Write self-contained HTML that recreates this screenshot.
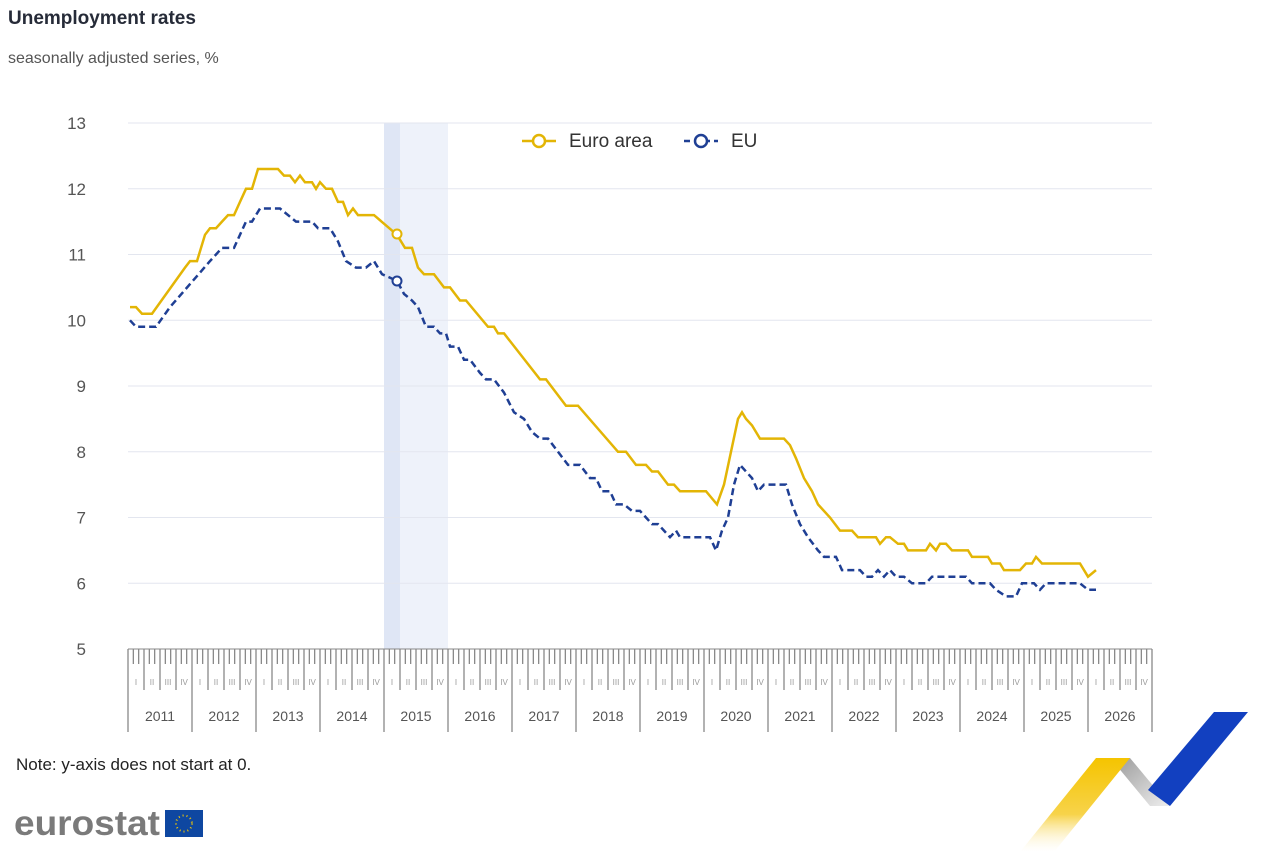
<!DOCTYPE html>
<html><head><meta charset="utf-8"><style>
body{margin:0;background:#fff;width:1280px;height:852px;overflow:hidden;font-family:"Liberation Sans",sans-serif}
</style></head><body>
<svg id="s" width="1280" height="852" xmlns="http://www.w3.org/2000/svg" font-family="Liberation Sans, sans-serif">
<text x="8" y="24" font-size="19" font-weight="bold" fill="#262b38">Unemployment rates</text>
<text x="8" y="63" font-size="16" fill="#555">seasonally adjusted series, %</text>
<rect x="384" y="123" width="64" height="526" fill="#eef2fa"/>
<rect x="384" y="123" width="16" height="526" fill="#dfe6f5"/>
<g id="grid"></g>
<g id="ax"></g>
<path id="eu" fill="none" stroke="#1f3f94" stroke-width="2.5" stroke-dasharray="7,4"/>
<path id="ea" fill="none" stroke="#e3b505" stroke-width="2.5"/>
<circle cx="397" cy="234" r="4.5" fill="#fff" stroke="#e3b505" stroke-width="2"/>
<circle cx="397" cy="281" r="4.5" fill="#fff" stroke="#1f3f94" stroke-width="2"/>
<line x1="522" y1="141" x2="556" y2="141" stroke="#e3b505" stroke-width="2.5"/>
<circle cx="539" cy="141" r="6" fill="#fff" stroke="#e3b505" stroke-width="2.5"/>
<text x="569" y="147" font-size="19" fill="#333">Euro area</text>
<line x1="684" y1="141" x2="718" y2="141" stroke="#1f3f94" stroke-width="2.5" stroke-dasharray="6,4"/>
<circle cx="701" cy="141" r="6" fill="#fff" stroke="#1f3f94" stroke-width="2.5"/>
<text x="731" y="147" font-size="19" fill="#333">EU</text>
<text x="16" y="770" font-size="17" fill="#222">Note: y-axis does not start at 0.</text>
<text x="14" y="835" font-size="35" font-weight="bold" fill="#7a7a7a" textLength="146" lengthAdjust="spacingAndGlyphs">eurostat</text>
<rect x="165" y="810" width="38" height="27" fill="#0e47a1"/>
<circle cx="184" cy="823.5" r="8" fill="none" stroke="#f5c800" stroke-width="2" stroke-dasharray="1,3"/>
<defs>
<linearGradient id="gy" x1="0" y1="0" x2="0" y2="1"><stop offset="0" stop-color="#f5c400"/><stop offset="0.6" stop-color="#f7d34a"/><stop offset="1" stop-color="#fff" stop-opacity="0.2"/></linearGradient>
<linearGradient id="gg" x1="0" y1="0" x2="1" y2="1"><stop offset="0" stop-color="#999"/><stop offset="1" stop-color="#eee"/></linearGradient>
</defs>
<polygon points="1130,758 1170,806 1150,806 1112,760" fill="url(#gg)"/>
<polygon points="1096,758 1130,758 1054,852 1020,852" fill="url(#gy)"/>
<polygon points="1214,712 1248,712 1170,806 1148,790" fill="#1240c0"/>
</svg>
<script>
const Y=v=>649-(v-5)*65.75;
const g=document.getElementById('grid'),ax=document.getElementById('ax');
let h='';
for(let v=5;v<=13;v++){h+=`<line x1="128" x2="1152" y1="${Y(v)}" y2="${Y(v)}" stroke="#e3e6ef"/><text x="86" y="${Y(v)+6}" font-size="17" fill="#555" text-anchor="end">${v}</text>`;}
g.innerHTML=h;h='';
h+=`<line x1="128" x2="1152" y1="649" y2="649" stroke="#888"/>`;
const q=['I','II','III','IV'];
for(let m=0;m<=192;m++){const x=128+m*1024/192;let y2=664;if(m%12==0)y2=732;else if(m%3==0)y2=690;
h+=`<line x1="${x}" x2="${x}" y1="649" y2="${y2}" stroke="#888" stroke-width="1.3"/>`;}
for(let k=0;k<64;k++){const x=128+k*16+8;h+=`<text x="${x}" y="685" font-size="8" fill="#999" text-anchor="middle">${q[k%4]}</text>`;}
for(let yr=0;yr<16;yr++)h+=`<text x="${160+yr*64}" y="721" font-size="14" fill="#555" text-anchor="middle">${2011+yr}</text>`;
ax.innerHTML=h;
const ea=[130,10.2,136,10.2,142,10.1,152,10.1,185,10.8,190,10.9,197,10.9,205,11.3,210,11.4,216,11.4,222,11.5,228,11.6,234,11.6,240,11.8,246,12.0,252,12.0,258,12.3,278,12.3,284,12.2,290,12.2,295,12.1,300,12.2,305,12.1,312,12.1,316,12.0,320,12.1,326,12.0,332,12.0,338,11.8,343,11.8,348,11.6,353,11.7,358,11.6,374,11.6,397,11.3,405,11.1,412,11.1,418,10.8,424,10.7,434,10.7,444,10.5,450,10.5,460,10.3,466,10.3,488,9.9,494,9.9,498,9.8,504,9.8,540,9.1,546,9.1,566,8.7,578,8.7,618,8.0,626,8.0,636,7.8,646,7.8,652,7.7,658,7.7,668,7.5,674,7.5,680,7.4,706,7.4,717,7.2,724,7.5,731,8.0,738,8.5,742,8.6,746,8.5,752,8.4,760,8.2,784,8.2,790,8.1,796,7.9,804,7.6,812,7.4,818,7.2,830,7.0,840,6.8,852,6.8,858,6.7,876,6.7,880,6.6,886,6.7,890,6.7,898,6.6,904,6.6,908,6.5,926,6.5,930,6.6,936,6.5,940,6.6,946,6.6,952,6.5,968,6.5,972,6.4,988,6.4,992,6.3,1000,6.3,1004,6.2,1020,6.2,1026,6.3,1032,6.3,1036,6.4,1042,6.3,1080,6.3,1088,6.1,1096,6.2];
const eu=[130,10.0,136,9.9,156,9.9,170,10.2,210,10.9,222,11.1,234,11.1,246,11.5,252,11.5,260,11.7,280,11.7,296,11.5,312,11.5,318,11.4,330,11.4,338,11.2,346,10.9,356,10.8,366,10.8,374,10.9,382,10.7,397,10.6,404,10.4,412,10.3,418,10.2,426,9.9,434,9.9,440,9.8,446,9.8,450,9.6,458,9.6,464,9.4,470,9.4,480,9.2,486,9.1,494,9.1,504,8.9,514,8.6,524,8.5,532,8.3,540,8.2,548,8.2,568,7.8,580,7.8,590,7.6,596,7.6,602,7.4,610,7.4,616,7.2,624,7.2,632,7.1,640,7.1,646,7.0,652,6.9,658,6.9,664,6.8,670,6.7,676,6.8,680,6.7,710,6.7,716,6.5,722,6.8,728,7.0,734,7.5,740,7.8,746,7.7,752,7.6,758,7.4,764,7.5,786,7.5,792,7.2,800,6.9,808,6.7,818,6.5,824,6.4,836,6.4,842,6.2,860,6.2,866,6.1,872,6.1,878,6.2,884,6.1,890,6.2,896,6.1,904,6.1,912,6.0,926,6.0,932,6.1,966,6.1,972,6.0,990,6.0,996,5.9,1006,5.8,1016,5.8,1022,6.0,1034,6.0,1040,5.9,1046,6.0,1080,6.0,1088,5.9,1096,5.9];
const P=a=>{let d='';for(let i=0;i<a.length;i+=2)d+=(i?'L':'M')+a[i]+','+Y(a[i+1]).toFixed(1);return d;};
document.getElementById('ea').setAttribute('d',P(ea));
document.getElementById('eu').setAttribute('d',P(eu));
</script>
</body></html>
